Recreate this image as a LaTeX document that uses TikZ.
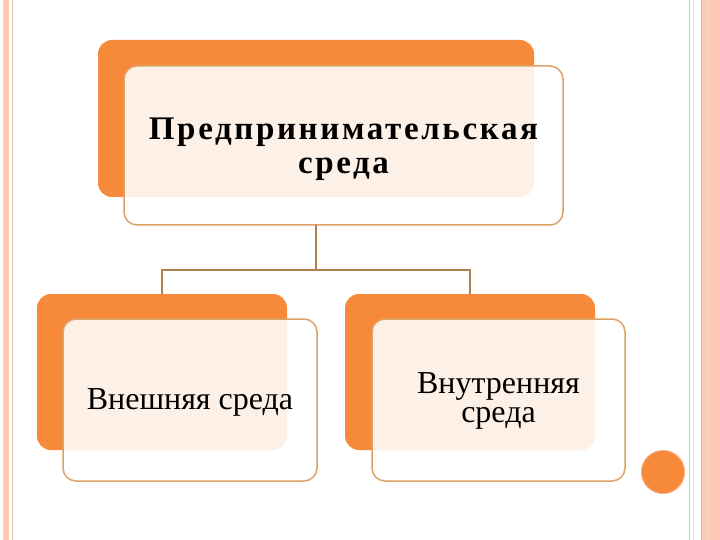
\documentclass[tikz,border=0pt]{standalone}
\usepackage{fontspec}
\setmainfont{Liberation Serif}
\newfontfamily\spacedfont[LetterSpace=8]{Liberation Serif}
\usepackage{tikz}
\usetikzlibrary{positioning}

\definecolor{backorange}{HTML}{F68A3A}
\definecolor{frameline}{HTML}{DDA265}
\definecolor{connline}{HTML}{B0814F}
\definecolor{bandsalmon}{HTML}{FFC8B2}
\definecolor{bandline}{HTML}{E8C8B0}

\tikzset{
  backbox/.style={rounded corners=14pt, fill=backorange, inner sep=0pt, outer sep=0pt},
  frontbox/.style={rounded corners=13pt, draw=frameline, line width=1.5pt, fill=white, fill opacity=0.88, inner sep=0pt, outer sep=0pt},
  boxtext/.style={align=center, inner sep=0pt, font={\fontsize{32}{29}\selectfont}},
  conn/.style={draw=connline, line width=1.5pt}
}

\begin{document}
\begin{tikzpicture}[x=1pt,y=1pt,yscale=-1,xscale=1]
    \useasboundingbox (0,0) rectangle (720,540);
    
    %Left band
    \fill [bandsalmon] (3,0) rectangle (9,540);
    \draw [bandline, line width=0.8pt] (12.5,0) -- (12.5,540);
    %Right band
    \fill [bandsalmon] (702,0) rectangle (720,540);
    \draw [bandline, line width=0.8pt] (689,0) -- (689,540);
    \draw [bandline!60, line width=0.8pt] (693,0) -- (693,540);
    \draw [backorange!70, line width=1pt] (701.5,0) -- (701.5,540);
    \draw [bandline!70, line width=0.6pt] (708,0) -- (708,540);
    
    % Back boxes
    \node [backbox, minimum width=436pt, minimum height=157pt] (topback) at (316,118.5) {};
    \node [backbox, minimum width=250pt, minimum height=156pt] (leftback) at (162,372) {};
    \node [backbox, minimum width=250pt, minimum height=156pt] (rightback) at (470,372) {};
    
    % Front boxes
    \node [frontbox, minimum width=439pt, minimum height=159pt] (topfront) at (343.5,145.5) {};
    \node [frontbox, minimum width=254pt, minimum height=162pt] (leftfront) at (190,400) {};
    \node [frontbox, minimum width=253pt, minimum height=162pt] (rightfront) at (498.5,400) {};
    
    % Text Node
    \node [boxtext, font={\spacedfont\bfseries\fontsize{33}{34}\selectfont}] (toptext) at ([yshift=4pt]topfront.center)
        {Предпринимательская\\ среда};
    % Text Node
    \node [boxtext] (lefttext) at ([yshift=2pt]leftfront.center) {Внешняя среда};
    % Text Node
    \node [boxtext] (righttext) at ([yshift=1pt]rightfront.center) {Внутренняя\\ среда};
    
    % Connectors
    \coordinate (fork) at (topback.south |- 0,270);
    \draw [conn] (topback.south |- topfront.south) -- (fork);
    \draw [conn] (fork) -| (leftback.north);
    \draw [conn] (fork) -| (rightback.north);
    
    % Circle
    \fill [backorange, draw=backorange!70!white, line width=1pt] (663,472) circle (21.5);
\end{tikzpicture}
\end{document}
